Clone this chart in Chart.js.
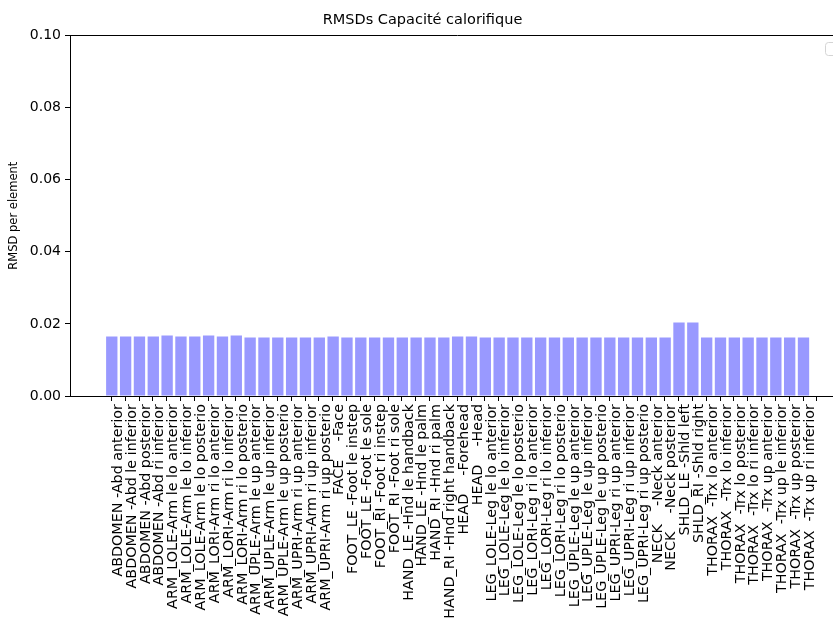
<!DOCTYPE html>
<html lang="fr">
<head>
<meta charset="UTF-8">
<title>RMSDs Capacité calorifique</title>
<script src="https://cdn.jsdelivr.net/npm/chart.js@4.4.0/dist/chart.umd.min.js"></script>
<style>
  html, body { margin: 0; padding: 0; overflow: hidden; background: #fff; }
  .chart-box { width: 860px; height: 626px; }
</style>
</head>
<body>
<div class="chart-box"><canvas id="rmsdChart"></canvas></div>
<script>
// body elements (x categories)
const elements = [
  'ABDOMEN -Abd anterior', 'ABDOMEN -Abd le inferior', 'ABDOMEN -Abd posterior', 'ABDOMEN -Abd ri inferior',
  'ARM_LOLE-Arm le lo anterior', 'ARM_LOLE-Arm le lo inferior', 'ARM_LOLE-Arm le lo posterio',
  'ARM_LORI-Arm ri lo anterior', 'ARM_LORI-Arm ri lo inferior', 'ARM_LORI-Arm ri lo posterio',
  'ARM_UPLE-Arm le up anterior', 'ARM_UPLE-Arm le up inferior', 'ARM_UPLE-Arm le up posterio',
  'ARM_UPRI-Arm ri up anterior', 'ARM_UPRI-Arm ri up inferior', 'ARM_UPRI-Arm ri up posterio',
  'FACE    -Face',
  'FOOT_LE -Foot le instep', 'FOOT_LE -Foot le sole', 'FOOT_RI -Foot ri instep', 'FOOT_RI -Foot ri sole',
  'HAND_LE -Hnd le handback', 'HAND_LE -Hnd le palm', 'HAND_RI -Hnd ri palm', 'HAND_RI -Hnd right handback',
  'HEAD    -Forehead', 'HEAD    -Head',
  'LEG_LOLE-Leg le lo anterior', 'LEG_LOLE-Leg le lo inferior', 'LEG_LOLE-Leg le lo posterio',
  'LEG_LORI-Leg ri lo anterior', 'LEG_LORI-Leg ri lo inferior', 'LEG_LORI-Leg ri lo posterio',
  'LEG_UPLE-Leg le up anterior', 'LEG_UPLE-Leg le up inferior', 'LEG_UPLE-Leg le up posterio',
  'LEG_UPRI-Leg ri up anterior', 'LEG_UPRI-Leg ri up inferior', 'LEG_UPRI-Leg ri up posterio',
  'NECK    -Neck anterior', 'NECK    -Neck posterior',
  'SHLD_LE -Shld left', 'SHLD_RI -Shld right',
  'THORAX  -Trx lo anterior', 'THORAX  -Trx lo inferior', 'THORAX  -Trx lo posterior', 'THORAX  -Trx lo ri inferior',
  'THORAX  -Trx up anterior', 'THORAX  -Trx up le inferior', 'THORAX  -Trx up posterior', 'THORAX  -Trx up ri inferior'
];

// RMSD per element
const rmsd = [
  0.0165, 0.0165, 0.0165, 0.0165,
  0.0168, 0.0165, 0.0165,
  0.0168, 0.0165, 0.0168,
  0.0162, 0.0162, 0.0162,
  0.0162, 0.0162, 0.0162,
  0.0165,
  0.0162, 0.0162, 0.0162, 0.0162,
  0.0162, 0.0162, 0.0162, 0.0162,
  0.0165, 0.0165,
  0.0162, 0.0162, 0.0162,
  0.0162, 0.0162, 0.0162,
  0.0162, 0.0162, 0.0162,
  0.0162, 0.0162, 0.0162,
  0.0162, 0.0162,
  0.0204, 0.0204,
  0.0162, 0.0162, 0.0162, 0.0162,
  0.0162, 0.0162, 0.0162, 0.0162
];

const yTicks = [0, 0.02, 0.04, 0.06, 0.08, 0.10];

const mplFont = "'DejaVu Sans', sans-serif";

// matplotlib-like top spine + the (cut off) legend frame in the corner
const frameExtras = {
  id: 'frameExtras',
  afterDraw(chart) {
    const { ctx, chartArea } = chart;
    ctx.save();
    ctx.strokeStyle = '#000';
    ctx.lineWidth = 1;
    ctx.beginPath();
    ctx.moveTo(chartArea.left, Math.round(chartArea.top) + 0.5);
    ctx.lineTo(chartArea.right, Math.round(chartArea.top) + 0.5);
    ctx.stroke();

    ctx.strokeStyle = '#d4d4d4';
    ctx.beginPath();
    ctx.roundRect(Math.round(chartArea.right) - 19.5, Math.round(chartArea.top) + 7.5, 40, 13, 3);
    ctx.stroke();
    ctx.restore();
  }
};

const ctx = document.getElementById('rmsdChart').getContext('2d');
new Chart(ctx, {
  type: 'bar',
  data: {
    datasets: [{
      data: rmsd.map((v, i) => ({ x: i, y: v })),
      backgroundColor: '#9999ff',
      borderWidth: 0,
      categoryPercentage: 1,
      barPercentage: 0.82
    }]
  },
  plugins: [frameExtras],
  options: {
    responsive: true,
    maintainAspectRatio: false,
    animation: false,
    layout: { padding: { left: 0, right: 15, top: 0, bottom: 0 } },
    plugins: {
      legend: { display: false },
      tooltip: { enabled: false },
      title: {
        display: true,
        text: 'RMSDs Capacité calorifique',
        color: '#000',
        font: { family: mplFont, size: 14.5, weight: 'normal' },
        padding: { top: 12, bottom: 6 }
      }
    },
    scales: {
      x: {
        type: 'linear',
        offset: false,
        min: -3.02,
        max: 53.0,
        afterBuildTicks: s => { s.ticks = elements.map((_, i) => ({ value: i + 0.47 })); },
        afterFit: s => { s.height = 230; },
        grid: { drawOnChartArea: false, drawTicks: true, tickLength: 5, color: '#000' },
        border: { color: '#000', width: 1 },
        ticks: {
          autoSkip: false,
          minRotation: 90,
          maxRotation: 90,
          padding: 3,
          color: '#000',
          font: { family: mplFont, size: 14.3 },
          callback: (v, i) => elements[i]
        }
      },
      y: {
        min: 0,
        max: 0.1,
        afterBuildTicks: s => { s.ticks = yTicks.map(v => ({ value: v })); },
        afterFit: s => { s.width = 70; },
        grid: { drawOnChartArea: false, drawTicks: true, tickLength: 5, color: '#000' },
        border: { color: '#000', width: 1 },
        title: {
          display: true,
          text: 'RMSD per element',
          color: '#000',
          font: { family: mplFont, size: 11.5 },
          padding: { top: 7, bottom: 0 }
        },
        ticks: {
          padding: 4,
          color: '#000',
          font: { family: mplFont, size: 14 },
          callback: v => v.toFixed(2)
        }
      }
    }
  }
});
</script>
</body>
</html>
